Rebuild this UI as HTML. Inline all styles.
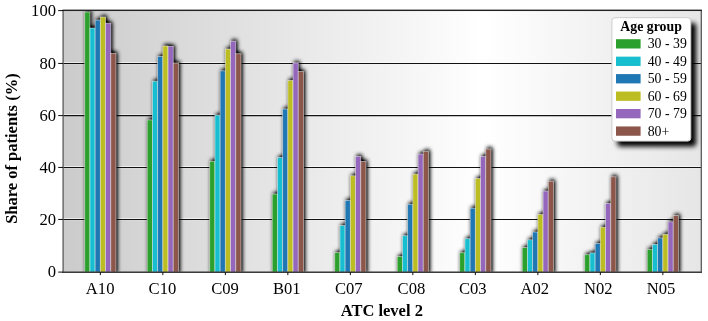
<!DOCTYPE html>
<html><head><meta charset="utf-8"><title>Share of patients by ATC level 2</title>
<style>
html,body{margin:0;padding:0;background:#fff;}
body{width:708px;height:321px;overflow:hidden;}
svg{display:block;}
text{font-family:"Liberation Serif","Times New Roman",serif;fill:#000;}
.t{font-size:16.6px;}
.b{font-size:16.5px;font-weight:bold;}
.l{font-size:13.8px;}
.lb{font-size:13.8px;font-weight:bold;}
</style></head><body>
<svg width="708" height="321" viewBox="0 0 708 321">
<defs>
<linearGradient id="bg" x1="0" y1="0" x2="1" y2="0">
<stop offset="0" stop-color="#cbcbcb"/><stop offset="0.66" stop-color="#ffffff"/><stop offset="1" stop-color="#e6e6e6"/>
</linearGradient>
<filter id="sh" x="-5%" y="-5%" width="110%" height="110%"><feGaussianBlur stdDeviation="1.9"/><feComponentTransfer><feFuncA type="linear" slope="1.3"/></feComponentTransfer></filter>
<filter id="lsh" x="-20%" y="-20%" width="150%" height="150%"><feGaussianBlur stdDeviation="2.6"/></filter>
<clipPath id="cp"><rect x="63.1" y="10.4" width="638.2" height="261.8"/></clipPath>
</defs>
<rect x="0" y="0" width="708" height="321" fill="#fff"/>
<rect x="63.1" y="10.4" width="638.2" height="261.8" fill="url(#bg)"/>

<g clip-path="url(#cp)">
<line x1="63.1" x2="701.3" y1="62.50" y2="62.50" stroke="#fff" stroke-opacity="0.6" stroke-width="1"/>
<line x1="63.1" x2="701.3" y1="64.40" y2="64.40" stroke="#fff" stroke-opacity="0.15" stroke-width="1"/>
<line x1="63.1" x2="701.3" y1="63.45" y2="63.45" stroke="#111" stroke-width="1.05"/>
<line x1="63.1" x2="701.3" y1="114.65" y2="114.65" stroke="#fff" stroke-opacity="0.6" stroke-width="1"/>
<line x1="63.1" x2="701.3" y1="116.55" y2="116.55" stroke="#fff" stroke-opacity="0.15" stroke-width="1"/>
<line x1="63.1" x2="701.3" y1="115.6" y2="115.6" stroke="#111" stroke-width="1.05"/>
<line x1="63.1" x2="701.3" y1="166.50" y2="166.50" stroke="#fff" stroke-opacity="0.6" stroke-width="1"/>
<line x1="63.1" x2="701.3" y1="168.40" y2="168.40" stroke="#fff" stroke-opacity="0.15" stroke-width="1"/>
<line x1="63.1" x2="701.3" y1="167.45" y2="167.45" stroke="#111" stroke-width="1.05"/>
<line x1="63.1" x2="701.3" y1="218.50" y2="218.50" stroke="#fff" stroke-opacity="0.6" stroke-width="1"/>
<line x1="63.1" x2="701.3" y1="220.40" y2="220.40" stroke="#fff" stroke-opacity="0.15" stroke-width="1"/>
<line x1="63.1" x2="701.3" y1="219.45" y2="219.45" stroke="#111" stroke-width="1.05"/>
<g filter="url(#sh)" fill="#000">
<rect x="86.02" y="10.40" width="5.21" height="263.20"/>
<rect x="148.52" y="118.30" width="5.21" height="155.30"/>
<rect x="211.02" y="159.70" width="5.21" height="113.90"/>
<rect x="273.52" y="192.40" width="5.21" height="81.20"/>
<rect x="336.02" y="251.00" width="5.21" height="22.60"/>
<rect x="398.52" y="254.90" width="5.21" height="18.70"/>
<rect x="461.02" y="251.10" width="5.21" height="22.50"/>
<rect x="523.52" y="246.00" width="5.21" height="27.60"/>
<rect x="586.02" y="253.10" width="5.21" height="20.50"/>
<rect x="648.52" y="247.70" width="5.21" height="25.90"/>
<rect x="91.23" y="26.45" width="5.21" height="247.15"/>
<rect x="153.73" y="79.60" width="5.21" height="194.00"/>
<rect x="216.23" y="113.60" width="5.21" height="160.00"/>
<rect x="278.73" y="155.80" width="5.21" height="117.80"/>
<rect x="341.23" y="223.90" width="5.21" height="49.70"/>
<rect x="403.73" y="234.10" width="5.21" height="39.50"/>
<rect x="466.23" y="237.10" width="5.21" height="36.50"/>
<rect x="528.73" y="238.20" width="5.21" height="35.40"/>
<rect x="591.23" y="251.30" width="5.21" height="22.30"/>
<rect x="653.73" y="242.80" width="5.21" height="30.80"/>
<rect x="96.44" y="18.50" width="5.21" height="255.10"/>
<rect x="158.94" y="54.90" width="5.21" height="218.70"/>
<rect x="221.44" y="69.20" width="5.21" height="204.40"/>
<rect x="283.94" y="107.40" width="5.21" height="166.20"/>
<rect x="346.44" y="198.80" width="5.21" height="74.80"/>
<rect x="408.94" y="202.70" width="5.21" height="70.90"/>
<rect x="471.44" y="206.60" width="5.21" height="67.00"/>
<rect x="533.94" y="230.40" width="5.21" height="43.20"/>
<rect x="596.44" y="241.90" width="5.21" height="31.70"/>
<rect x="658.94" y="236.30" width="5.21" height="37.30"/>
<rect x="101.65" y="15.40" width="5.21" height="258.20"/>
<rect x="164.15" y="44.40" width="5.21" height="229.20"/>
<rect x="226.65" y="47.40" width="5.21" height="226.20"/>
<rect x="289.15" y="78.80" width="5.21" height="194.80"/>
<rect x="351.65" y="174.20" width="5.21" height="99.40"/>
<rect x="414.15" y="172.50" width="5.21" height="101.10"/>
<rect x="476.65" y="176.90" width="5.21" height="96.70"/>
<rect x="539.15" y="212.80" width="5.21" height="60.80"/>
<rect x="601.65" y="225.60" width="5.21" height="48.00"/>
<rect x="664.15" y="232.70" width="5.21" height="40.90"/>
<rect x="106.86" y="21.60" width="5.21" height="252.00"/>
<rect x="169.36" y="44.80" width="5.21" height="228.80"/>
<rect x="231.86" y="39.60" width="5.21" height="234.00"/>
<rect x="294.36" y="61.30" width="5.21" height="212.30"/>
<rect x="356.86" y="154.80" width="5.21" height="118.80"/>
<rect x="419.36" y="152.50" width="5.21" height="121.10"/>
<rect x="481.86" y="154.90" width="5.21" height="118.70"/>
<rect x="544.36" y="189.40" width="5.21" height="84.20"/>
<rect x="606.86" y="201.80" width="5.21" height="71.80"/>
<rect x="669.36" y="220.20" width="5.21" height="53.40"/>
<rect x="112.07" y="51.70" width="5.21" height="221.90"/>
<rect x="174.57" y="61.40" width="5.21" height="212.20"/>
<rect x="237.07" y="52.10" width="5.21" height="221.50"/>
<rect x="299.57" y="69.90" width="5.21" height="203.70"/>
<rect x="362.07" y="159.90" width="5.21" height="113.70"/>
<rect x="424.57" y="149.70" width="5.21" height="123.90"/>
<rect x="487.07" y="147.40" width="5.21" height="126.20"/>
<rect x="549.57" y="179.60" width="5.21" height="94.00"/>
<rect x="612.07" y="175.20" width="5.21" height="98.40"/>
<rect x="674.57" y="213.90" width="5.21" height="59.70"/>
</g>
<g stroke="#fff" stroke-opacity="0.6" stroke-width="0.8">
<rect x="84.72" y="12.00" width="5.21" height="263.20" fill="#2ca02c"/>
<rect x="147.22" y="119.90" width="5.21" height="155.30" fill="#2ca02c"/>
<rect x="209.72" y="161.30" width="5.21" height="113.90" fill="#2ca02c"/>
<rect x="272.22" y="194.00" width="5.21" height="81.20" fill="#2ca02c"/>
<rect x="334.72" y="252.60" width="5.21" height="22.60" fill="#2ca02c"/>
<rect x="397.22" y="256.50" width="5.21" height="18.70" fill="#2ca02c"/>
<rect x="459.72" y="252.70" width="5.21" height="22.50" fill="#2ca02c"/>
<rect x="522.22" y="247.60" width="5.21" height="27.60" fill="#2ca02c"/>
<rect x="584.72" y="254.70" width="5.21" height="20.50" fill="#2ca02c"/>
<rect x="647.22" y="249.30" width="5.21" height="25.90" fill="#2ca02c"/>
<rect x="89.93" y="28.05" width="5.21" height="247.15" fill="#17becf"/>
<rect x="152.43" y="81.20" width="5.21" height="194.00" fill="#17becf"/>
<rect x="214.93" y="115.20" width="5.21" height="160.00" fill="#17becf"/>
<rect x="277.43" y="157.40" width="5.21" height="117.80" fill="#17becf"/>
<rect x="339.93" y="225.50" width="5.21" height="49.70" fill="#17becf"/>
<rect x="402.43" y="235.70" width="5.21" height="39.50" fill="#17becf"/>
<rect x="464.93" y="238.70" width="5.21" height="36.50" fill="#17becf"/>
<rect x="527.43" y="239.80" width="5.21" height="35.40" fill="#17becf"/>
<rect x="589.93" y="252.90" width="5.21" height="22.30" fill="#17becf"/>
<rect x="652.43" y="244.40" width="5.21" height="30.80" fill="#17becf"/>
<rect x="95.14" y="20.10" width="5.21" height="255.10" fill="#1f77b4"/>
<rect x="157.64" y="56.50" width="5.21" height="218.70" fill="#1f77b4"/>
<rect x="220.14" y="70.80" width="5.21" height="204.40" fill="#1f77b4"/>
<rect x="282.64" y="109.00" width="5.21" height="166.20" fill="#1f77b4"/>
<rect x="345.14" y="200.40" width="5.21" height="74.80" fill="#1f77b4"/>
<rect x="407.64" y="204.30" width="5.21" height="70.90" fill="#1f77b4"/>
<rect x="470.14" y="208.20" width="5.21" height="67.00" fill="#1f77b4"/>
<rect x="532.64" y="232.00" width="5.21" height="43.20" fill="#1f77b4"/>
<rect x="595.14" y="243.50" width="5.21" height="31.70" fill="#1f77b4"/>
<rect x="657.64" y="237.90" width="5.21" height="37.30" fill="#1f77b4"/>
<rect x="100.35" y="17.00" width="5.21" height="258.20" fill="#bcbd22"/>
<rect x="162.85" y="46.00" width="5.21" height="229.20" fill="#bcbd22"/>
<rect x="225.35" y="49.00" width="5.21" height="226.20" fill="#bcbd22"/>
<rect x="287.85" y="80.40" width="5.21" height="194.80" fill="#bcbd22"/>
<rect x="350.35" y="175.80" width="5.21" height="99.40" fill="#bcbd22"/>
<rect x="412.85" y="174.10" width="5.21" height="101.10" fill="#bcbd22"/>
<rect x="475.35" y="178.50" width="5.21" height="96.70" fill="#bcbd22"/>
<rect x="537.85" y="214.40" width="5.21" height="60.80" fill="#bcbd22"/>
<rect x="600.35" y="227.20" width="5.21" height="48.00" fill="#bcbd22"/>
<rect x="662.85" y="234.30" width="5.21" height="40.90" fill="#bcbd22"/>
<rect x="105.56" y="23.20" width="5.21" height="252.00" fill="#9467bd"/>
<rect x="168.06" y="46.40" width="5.21" height="228.80" fill="#9467bd"/>
<rect x="230.56" y="41.20" width="5.21" height="234.00" fill="#9467bd"/>
<rect x="293.06" y="62.90" width="5.21" height="212.30" fill="#9467bd"/>
<rect x="355.56" y="156.40" width="5.21" height="118.80" fill="#9467bd"/>
<rect x="418.06" y="154.10" width="5.21" height="121.10" fill="#9467bd"/>
<rect x="480.56" y="156.50" width="5.21" height="118.70" fill="#9467bd"/>
<rect x="543.06" y="191.00" width="5.21" height="84.20" fill="#9467bd"/>
<rect x="605.56" y="203.40" width="5.21" height="71.80" fill="#9467bd"/>
<rect x="668.06" y="221.80" width="5.21" height="53.40" fill="#9467bd"/>
<rect x="110.77" y="53.30" width="5.21" height="221.90" fill="#8c564b"/>
<rect x="173.27" y="63.00" width="5.21" height="212.20" fill="#8c564b"/>
<rect x="235.77" y="53.70" width="5.21" height="221.50" fill="#8c564b"/>
<rect x="298.27" y="71.50" width="5.21" height="203.70" fill="#8c564b"/>
<rect x="360.77" y="161.50" width="5.21" height="113.70" fill="#8c564b"/>
<rect x="423.27" y="151.30" width="5.21" height="123.90" fill="#8c564b"/>
<rect x="485.77" y="149.00" width="5.21" height="126.20" fill="#8c564b"/>
<rect x="548.27" y="181.20" width="5.21" height="94.00" fill="#8c564b"/>
<rect x="610.77" y="176.80" width="5.21" height="98.40" fill="#8c564b"/>
<rect x="673.27" y="215.50" width="5.21" height="59.70" fill="#8c564b"/>
</g>
</g>
<rect x="63.1" y="10.4" width="638.2" height="261.8" fill="none" stroke="#5a5a5a" stroke-width="1.3"/>
<line x1="62.5" x2="701.9" y1="10.4" y2="10.4" stroke="#222" stroke-width="1.3"/>
<line x1="62.5" x2="701.9" y1="272.4" y2="272.4" stroke="#3c3c3c" stroke-width="1.25"/>
<line x1="58.2" x2="63.1" y1="10.6" y2="10.6" stroke="#000" stroke-width="0.95"/>
<text class="t" x="56" y="16.4" text-anchor="end">100</text>
<line x1="58.2" x2="63.1" y1="63.45" y2="63.45" stroke="#000" stroke-width="0.95"/>
<text class="t" x="56" y="68.9" text-anchor="end">80</text>
<line x1="58.2" x2="63.1" y1="115.6" y2="115.6" stroke="#000" stroke-width="0.95"/>
<text class="t" x="56" y="121.0" text-anchor="end">60</text>
<line x1="58.2" x2="63.1" y1="167.45" y2="167.45" stroke="#000" stroke-width="0.95"/>
<text class="t" x="56" y="172.8" text-anchor="end">40</text>
<line x1="58.2" x2="63.1" y1="219.45" y2="219.45" stroke="#000" stroke-width="0.95"/>
<text class="t" x="56" y="224.8" text-anchor="end">20</text>
<line x1="58.2" x2="63.1" y1="272.09999999999997" y2="272.09999999999997" stroke="#000" stroke-width="0.95"/>
<text class="t" x="56" y="276.7" text-anchor="end">0</text>
<line x1="100.35" x2="100.35" y1="272.2" y2="275.09999999999997" stroke="#000" stroke-width="0.95"/>
<text class="t" x="100.15" y="293.7" text-anchor="middle">A10</text>
<line x1="162.85" x2="162.85" y1="272.2" y2="275.09999999999997" stroke="#000" stroke-width="0.95"/>
<text class="t" x="162.45" y="293.7" text-anchor="middle">C10</text>
<line x1="225.35" x2="225.35" y1="272.2" y2="275.09999999999997" stroke="#000" stroke-width="0.95"/>
<text class="t" x="225.05" y="293.7" text-anchor="middle">C09</text>
<line x1="287.85" x2="287.85" y1="272.2" y2="275.09999999999997" stroke="#000" stroke-width="0.95"/>
<text class="t" x="286.80" y="293.7" text-anchor="middle">B01</text>
<line x1="350.35" x2="350.35" y1="272.2" y2="275.09999999999997" stroke="#000" stroke-width="0.95"/>
<text class="t" x="348.75" y="293.7" text-anchor="middle">C07</text>
<line x1="412.85" x2="412.85" y1="272.2" y2="275.09999999999997" stroke="#000" stroke-width="0.95"/>
<text class="t" x="411.45" y="293.7" text-anchor="middle">C08</text>
<line x1="475.35" x2="475.35" y1="272.2" y2="275.09999999999997" stroke="#000" stroke-width="0.95"/>
<text class="t" x="472.85" y="293.7" text-anchor="middle">C03</text>
<line x1="537.85" x2="537.85" y1="272.2" y2="275.09999999999997" stroke="#000" stroke-width="0.95"/>
<text class="t" x="534.85" y="293.7" text-anchor="middle">A02</text>
<line x1="600.35" x2="600.35" y1="272.2" y2="275.09999999999997" stroke="#000" stroke-width="0.95"/>
<text class="t" x="598.35" y="293.7" text-anchor="middle">N02</text>
<line x1="662.85" x2="662.85" y1="272.2" y2="275.09999999999997" stroke="#000" stroke-width="0.95"/>
<text class="t" x="660.95" y="293.7" text-anchor="middle">N05</text>
<text class="b" x="381.8" y="315.9" text-anchor="middle">ATC level 2</text>
<text class="b" transform="translate(17.1,148.6) rotate(-90)" text-anchor="middle">Share of patients (%)</text>
<rect x="617.3" y="23.1" width="78.9" height="123.4" rx="3" fill="#000" filter="url(#lsh)"/>
<rect x="611.9" y="17.7" width="78.9" height="123.4" rx="3" fill="#fff" stroke="#ccc" stroke-width="1"/>
<text class="lb" x="651.1" y="30.8" text-anchor="middle">Age group</text>
<rect x="616" y="39.20" width="24.6" height="9.3" fill="#2ca02c"/>
<text class="l" x="647.7" y="48.40">30 - 39</text>
<rect x="616" y="56.65" width="24.6" height="9.3" fill="#17becf"/>
<text class="l" x="647.7" y="65.85">40 - 49</text>
<rect x="616" y="74.10" width="24.6" height="9.3" fill="#1f77b4"/>
<text class="l" x="647.7" y="83.30">50 - 59</text>
<rect x="616" y="91.55" width="24.6" height="9.3" fill="#bcbd22"/>
<text class="l" x="647.7" y="100.75">60 - 69</text>
<rect x="616" y="109.00" width="24.6" height="9.3" fill="#9467bd"/>
<text class="l" x="647.7" y="118.20">70 - 79</text>
<rect x="616" y="126.45" width="24.6" height="9.3" fill="#8c564b"/>
<text class="l" x="647.7" y="135.65">80+</text>
</svg></body></html>
